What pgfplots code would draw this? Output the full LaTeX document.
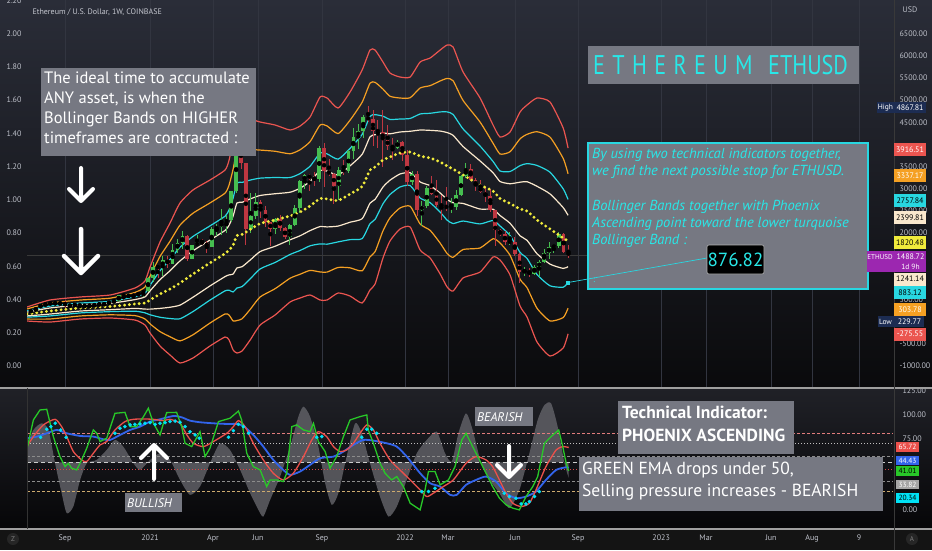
\documentclass[border=0pt]{standalone}
\usepackage{fontspec}
\setmainfont{PT Sans}
\usepackage{pgfplots}
\pgfplotsset{compat=1.18}
\usepackage{pgfplotstable}
\usepgfplotslibrary{fillbetween}
\tikzset{fill between/on layer=main}

\definecolor{bgtop}{RGB}{42,45,56}
\definecolor{bgbot}{RGB}{10,10,12}
\definecolor{lowtop}{RGB}{32,33,39}
\definecolor{lowbot}{RGB}{6,6,8}
\definecolor{gridc}{RGB}{50,53,64}
\definecolor{axtext}{RGB}{190,193,202}
\definecolor{cgreen}{RGB}{70,190,80}
\definecolor{cred}{RGB}{190,55,65}
\definecolor{bred}{RGB}{235,85,80}
\definecolor{borange}{RGB}{245,160,35}
\definecolor{bcyan}{RGB}{40,215,225}
\definecolor{bcream}{RGB}{250,232,205}
\definecolor{byellow}{RGB}{240,235,60}
\definecolor{boxg}{RGB}{118,120,130}
\definecolor{cyantxt}{RGB}{40,232,232}
\definecolor{ogreen}{RGB}{40,200,40}
\definecolor{ored}{RGB}{235,80,75}
\definecolor{oblue}{RGB}{50,100,235}
\definecolor{ocyan}{RGB}{0,225,245}
\definecolor{ogray}{RGB}{96,96,102}
\definecolor{navy}{RGB}{28,44,82}
\definecolor{purp}{RGB}{156,39,176}

% weekly candles, w = weeks after 13 Jul 2020
\pgfplotstableread{
w O H L C
1 235 320 234 311
2 311 415 303 386
3 386 401 363 395
4 395 446 374 433
6 396 440 374 434
8 352 389 332 365
9 365 395 355 385
12 353 377 335 365
13 365 386 357 368
14 368 418 362 406
16 384 470 371 463
18 460 610 445 605
20 575 635 530 590
22 586 670 580 642
23 642 690 565 685
24 685 1005 680 975
25 975 1350 890 1235
27 1230 1470 1030 1390
29 1310 1750 1300 1610
30 1610 1870 1550 1780
31 1780 2040 1650 1935
33 1420 1720 1410 1720
34 1720 1945 1710 1790
37 1690 2145 1680 2080
38 2080 2200 1940 2140
39 2140 2550 1950 2240
40 2240 2400 2000 2300
41 2300 2950 2250 2950
42 2950 3980 2900 3900
45 2100 2900 2000 2380
46 2380 2900 2320 2710
50 2080 2340 1970 2320
53 1900 2200 1720 2190
54 2190 2640 2150 2560
55 2560 3200 2450 3170
56 3170 3340 3000 3310
59 3220 3970 3160 3930
63 3060 3480 2740 3420
65 3410 3880 3360 3850
66 3850 4380 3680 4170
67 4170 4460 3900 4310
68 4310 4670 4150 4610
75 3930 4100 3900 4060
78 3150 3410 3080 3340
80 2530 2730 2160 2600
81 2600 3050 2560 3020
86 2560 2780 2460 2580
87 2580 2960 2510 2860
88 2860 3300 2840 3280
89 3280 3580 3250 3450
98 1800 2020 1740 1805
101 1130 1240 1040 1140
103 1070 1280 1060 1230
104 1230 1390 1010 1340
105 1340 1650 1330 1550
106 1550 1790 1420 1690
107 1690 1720 1560 1700
108 1700 2030 1670 1985
}\upcandles

\pgfplotstableread{
w O H L C
0 239 244 228 235
5 433 441 383 396
7 434 488 308 352
10 385 387 308 355
11 355 377 328 353
15 406 414 370 384
17 463 475 436 460
19 605 625 480 575
21 590 601 530 586
26 1235 1260 980 1230
28 1390 1475 1220 1310
32 1935 1960 1370 1420
35 1790 1875 1730 1780
36 1780 1820 1550 1690
43 3900 4380 3440 3580
44 3580 3590 1730 2100
47 2710 2740 2330 2510
48 2510 2620 2140 2240
49 2240 2250 1700 2080
51 2320 2410 2040 2110
52 2110 2140 1860 1900
57 3310 3330 2950 3230
58 3230 3380 3070 3220
60 3930 4030 3030 3400
61 3400 3670 3280 3330
62 3330 3350 2650 3060
64 3420 3650 3320 3410
69 4610 4868 4500 4570
70 4570 4770 3960 4310
71 4310 4560 3930 4290
72 4290 4780 3500 4110
73 4110 4430 3870 3960
74 3960 4140 3640 3930
76 4060 4080 3630 3770
77 3770 3880 3050 3150
79 3340 3400 2380 2530
82 3020 3280 2860 2880
83 2880 3190 2590 2630
84 2630 2850 2300 2620
85 2620 3040 2500 2560
90 3450 3560 3170 3200
91 3200 3240 2950 3050
92 3050 3190 2910 2920
93 2920 3030 2700 2830
94 2830 3000 2480 2520
95 2520 2530 1700 2060
96 2060 2100 1930 1970
97 1970 2050 1720 1800
99 1805 1920 1470 1530
100 1530 1550 880 1130
102 1140 1220 1000 1070
109 1985 1990 1550 1575
110 1575 1720 1430 1488
}\downcandles

% outer (red) Bollinger band, upper U and lower L; m = months after Jan 2020
\pgfplotstableread{
m U L
6.21 330 14
7.29 488 -9
8.71 556 59
10.12 601 82
11.29 759 36
11.76 917 -76
12.00 1233 -257
12.47 1797 -550
12.94 2226 -753
13.41 2677 -934
14.02 2971 -821
14.82 3196 -550
15.53 3422 -347
15.72 3648 -415
15.91 4099 -641
16.09 4596 -708
16.33 4596 -663
16.71 4573 -415
17.18 4505 -76
17.88 4438 149
18.59 4325 443
19.06 4415 533
19.53 4618 601
20.00 5070 488
20.33 5047 488
20.85 4821 646
21.41 5182 578
21.98 5679 420
22.35 6130 714
22.59 6130 849
22.96 5860 1436
23.29 5611 1820
23.76 5521 2090
24.24 5521 2136
24.71 5860 1616
25.18 5950 1436
25.65 6130 1075
25.98 6243 781
26.26 6198 691
26.73 5634 985
27.53 5047 1120
28.14 4438 1459
28.47 4167 1391
28.94 4280 1052
29.41 4731 353
29.74 4889 104
30.21 5047 -460
30.82 4957 -776
31.44 4370 -595
31.67 3917 -276
}\bands

\pgfplotstableread{
m v
6.20 63.1
6.51 94.6
6.82 105.1
7.14 105.8
7.45 77.1
7.76 56.1
8.00 45.6
8.16 49.1
8.31 43.9
8.55 42.1
8.78 52.6
9.02 64.9
9.33 84.1
9.49 80.6
9.65 71.9
9.96 75.4
10.35 101.6
10.82 102.6
11.06 87.6
11.37 87.6
11.69 98.1
11.92 106.9
12.16 91.1
12.47 78.9
12.78 102.3
13.25 102.6
13.49 87.6
13.65 70.1
13.96 66.6
14.35 82.3
14.59 56.1
14.82 64.9
15.22 92.9
15.76 96.4
16.16 104.0
16.31 94.6
16.55 59.6
16.86 45.6
17.18 42.1
17.49 24.6
17.65 31.6
17.96 31.6
18.27 29.9
18.43 38.6
18.67 87.6
18.90 89.4
19.22 84.1
19.53 82.3
19.69 91.1
19.92 71.9
20.24 61.4
20.47 43.9
20.78 56.1
21.10 77.1
21.41 94.6
21.88 98.1
22.20 99.9
22.27 84.1
22.51 70.1
22.82 49.1
23.06 38.6
23.37 31.6
23.61 35.1
23.92 24.6
24.24 7.1
24.71 0.1
24.94 21.1
25.10 40.4
25.41 40.4
25.65 26.4
26.04 31.6
26.35 45.6
26.67 73.6
26.87 80.6
27.18 66.6
27.50 52.6
27.81 38.6
28.12 24.6
28.44 12.4
28.75 5.4
29.07 1.9
29.38 0.1
29.69 14.1
30.01 24.6
30.24 35.1
30.56 70.1
30.87 77.1
31.23 84.1
31.42 66.6
31.58 49.1
31.70 41.0
}\greenema

\pgfplotstableread{
m v
6.20 66.6
6.51 77.1
6.98 89.4
7.53 95.3
7.84 87.6
8.08 77.1
8.39 61.4
8.78 52.6
9.02 50.9
9.33 59.6
9.65 68.4
9.96 71.9
10.35 84.1
10.82 92.9
11.22 95.3
11.69 95.6
12.16 95.3
12.63 93.9
12.94 95.3
13.41 91.1
13.73 78.9
14.04 70.1
14.51 66.6
14.98 71.9
15.61 80.6
15.92 87.6
16.16 93.9
16.47 87.6
16.86 70.1
17.33 52.6
17.80 38.6
18.27 31.6
18.74 38.6
19.22 56.1
19.61 73.6
19.92 82.3
20.31 77.1
20.63 66.6
20.94 61.4
21.25 63.1
21.57 70.1
21.88 80.6
22.20 89.4
22.51 84.1
22.82 70.1
23.29 52.6
23.76 42.1
24.24 31.6
24.71 21.1
25.02 14.1
25.33 17.6
25.80 24.6
26.27 31.6
26.87 49.1
27.34 56.1
27.81 52.6
28.12 45.6
28.44 31.6
28.75 17.6
29.07 7.1
29.46 3.6
29.85 7.1
30.16 21.1
30.63 45.6
31.11 63.1
31.42 66.6
31.70 65.7
}\redema

\pgfplotstableread{
m v
6.20 75.4
6.67 77.1
7.14 80.6
7.61 84.1
8.08 80.6
8.71 77.8
9.33 77.1
9.80 74.3
10.12 73.6
10.59 78.9
11.06 84.1
11.53 87.6
12.00 92.9
12.47 95.3
13.10 98.8
13.49 97.4
13.88 93.9
14.35 92.2
14.98 91.1
15.61 90.4
16.08 90.4
16.39 88.3
16.86 78.9
17.33 66.6
17.80 52.6
18.27 42.1
18.59 36.9
19.06 40.4
19.53 47.4
20.00 54.4
20.63 56.1
21.10 61.4
21.57 68.4
22.04 73.6
22.51 72.9
23.14 70.1
23.61 66.6
24.08 56.1
24.71 38.6
25.18 28.1
25.65 24.6
26.12 15.9
26.43 15.9
26.87 26.4
27.34 31.6
27.81 35.1
28.28 29.9
28.75 17.6
29.22 12.4
29.69 14.1
30.16 19.4
30.63 31.6
31.11 42.1
31.58 44.9
31.70 44.4
}\blueema

\pgfplotstableread{
m v
6.20 66.6
6.51 84.1
6.90 91.1
7.22 84.1
7.53 49.1
7.84 17.6
8.08 -3.4
8.39 3.6
8.71 31.6
9.02 49.1
9.49 52.6
9.96 63.1
10.35 73.6
10.74 66.6
11.22 49.1
11.53 42.1
12.00 52.6
12.47 59.6
12.94 52.6
13.41 31.6
13.88 15.9
14.35 24.6
14.82 49.1
15.29 70.1
15.76 63.1
16.24 42.1
16.71 17.6
17.10 0.1
17.33 -6.9
17.65 10.6
18.12 35.1
18.59 66.6
18.98 98.1
19.22 108.6
19.53 98.1
19.92 66.6
20.24 28.1
20.55 5.4
20.86 17.6
21.25 56.1
21.65 91.1
21.96 80.6
22.35 49.1
22.82 14.1
23.22 -6.9
23.61 3.6
24.08 31.6
24.55 59.6
25.02 73.6
25.49 82.3
25.88 59.6
26.20 50.9
26.51 80.6
26.87 101.6
27.18 84.1
27.58 49.1
27.97 31.6
28.44 17.6
28.91 1.9
29.38 21.1
29.85 59.6
30.24 94.6
30.56 110.4
30.87 112.1
31.18 87.6
31.50 49.1
31.70 33.8
}\grayosc

\pgfplotstableread{
m v
6.85 76.4
7.14 84.8
7.33 87.6
7.54 91.1
7.80 84.1
8.05 76.4
10.35 80.6
10.59 85.9
10.82 87.6
11.06 89.4
11.29 90.0
11.53 90.4
11.76 91.1
12.00 91.8
12.24 90.0
12.47 91.1
12.71 91.8
12.94 92.9
13.18 93.5
13.41 92.2
13.65 87.6
13.88 82.3
14.12 78.9
14.32 75.4
15.69 76.4
15.92 83.4
16.16 90.0
16.39 87.6
16.63 80.6
19.84 76.4
20.08 77.1
21.96 76.4
22.20 84.8
22.43 84.8
22.67 80.6
24.78 19.4
25.10 19.4
25.41 22.9
28.67 17.6
28.91 14.1
29.22 12.4
29.46 6.4
29.69 6.4
29.85 8.8
30.09 14.1
30.32 19.4
}\cyandots

\pgfplotsset{
  /pgf/number format/assume math mode=true,
  pane/.style={scale only axis, width=866pt, xmin=6.21, xmax=46.96,
    axis line style={draw=none}, major tick length=0pt,
    xtick={8.00,12.0,14.96,17.08,20.09,24.0,26.02,29.18,32.14,36.05,38.16,41.22,43.15,45.36},
    xmajorgrids, grid style={gridc, line width=0.6pt},
    tick label style={font=\fontsize{8}{9}\selectfont, text=axtext}},
}

% band at mid + f * half width (Fibonacci factors of the outer band)
\newcommand{\band}[2]{\addplot[#1, line width=1.2pt, smooth, tension=0.35]
  table[x=m, y expr={0.5*(\thisrow{U}+\thisrow{L})+(#2)*0.5*(\thisrow{U}-\thisrow{L})}] {\bands};}

\newcommand{\candles}[2]{%
  \addplot[only marks, mark=none, error bars/.cd, y dir=both, y explicit, error mark=none,
    error bar style={line width=0.8pt, color=#2}]
    table[x expr=6.39+0.23*\thisrow{w}, y expr={0.5*(\thisrow{H}+\thisrow{L})},
      y error expr={0.5*(\thisrow{H}-\thisrow{L})}] {#1};
  \addplot[only marks, mark=none, error bars/.cd, y dir=both, y explicit, error mark=none,
    error bar style={line width=3.7pt, color=#2}]
    table[x expr=6.39+0.23*\thisrow{w}, y expr={0.5*(\thisrow{O}+\thisrow{C})},
      y error expr={0.5*abs(\thisrow{C}-\thisrow{O})}] {#1};}

\begin{document}
\begin{tikzpicture}
\fill[black!92] (0,0) rectangle (932pt,550pt);
\shade[top color=bgtop, bottom color=bgbot] (0,162pt) rectangle (932pt,550pt);
\shade[top color=lowtop, bottom color=lowbot] (0,21pt) rectangle (932pt,162pt);

% ---------- price pane ----------
\begin{axis}[pane, at={(27pt,162pt)}, anchor=south west, height=388pt,
  ymin=-1498, ymax=7259, xticklabels={},
  ytick={-1000,-250,...,7250},
  yticklabels={0.00,0.20,0.40,0.60,0.80,1.00,1.20,1.40,1.60,1.80,2.00,2.20},
  yticklabel style={anchor=east, xshift=-2pt}]
\addplot[gray!45!black, line width=0.6pt] coordinates {(6.21,1488.72) (46.96,1488.72)};
\band{bred}{1}
\band{bred}{-1}
\band{borange}{0.7236}
\band{borange}{-0.7236}
\band{bcyan}{0.4472}
\band{bcyan}{-0.4472}
\band{bcream}{0.2764}
\band{bcream}{-0.2764}
\candles{\upcandles}{cgreen}
\candles{\downcandles}{cred}
\addplot[byellow, line width=3.2pt, line cap=round, dash pattern=on 0pt off 4.9pt, smooth, tension=0.35]
  table[x=m, y expr={0.5*(\thisrow{U}+\thisrow{L})}] {\bands};
\addplot[only marks, mark=square*, mark size=1.6pt, bcyan] coordinates {(31.67,883.12)};
\coordinate (lowband) at (axis cs:31.67,883.12);
\end{axis}

% right-hand price scale
\begin{axis}[scale only axis, width=866pt, height=388pt, at={(27pt,162pt)}, anchor=south west,
  xmin=6.21, xmax=46.96, ymin=-1498, ymax=7259, xtick=\empty,
  yticklabel pos=right, axis line style={draw=none}, major tick length=0pt,
  ytick={-1000,-500,500,2000,2500,3000,3500,4500,5000,5500,6000,6500},
  yticklabel style={font=\fontsize{8}{9}\selectfont, text=axtext, anchor=west, xshift=3pt},
  /pgf/number format/.cd, fixed, fixed zerofill, precision=2, 1000 sep={}]
\addplot[draw=none] coordinates {(6.21,0) (46.96,100)};
\end{axis}

% ---------- indicator pane ----------
\begin{axis}[pane, at={(27pt,21pt)}, anchor=south west, height=141pt,
  ymin=-20, ymax=128.2,
  xticklabels={Sep,2021,Apr,Jun,Sep,2022,Mar,Jun,Sep,2023,Mar,Jun,Aug,9},
  xticklabel style={anchor=north, yshift=-2pt},
  ytick={0,75,100,125}, yticklabel pos=right,
  yticklabel style={anchor=west, xshift=6pt},
  /pgf/number format/.cd, fixed, fixed zerofill, precision=2]
\addplot[name path=gr, draw=none, smooth, tension=0.4] table[x=m, y=v] {\grayosc};
\addplot[name path=base, draw=none] coordinates {(6.20,50) (31.70,50)};
\addplot[fill=ogray, draw=none, fill opacity=0.85] fill between[of=gr and base];
\addplot[color={rgb,255:red,225;green,125;blue,125}, line width=0.8pt, dash pattern=on 3pt off 2pt] coordinates {(6.21,80) (46.96,80)};
\addplot[white!75!black, line width=0.9pt, dash pattern=on 1pt off 2pt] coordinates {(6.21,70) (46.96,70)};
\addplot[white!55!black, line width=0.8pt, dash pattern=on 3pt off 2pt] coordinates {(6.21,56) (46.96,56)};
\addplot[white!80!black, line width=1.6pt, dash pattern=on 4pt off 3pt] coordinates {(6.21,50) (46.96,50)};
\addplot[color={rgb,255:red,215;green,70;blue,70}, line width=0.9pt, dash pattern=on 1pt off 2pt] coordinates {(6.21,43) (46.96,43)};
\addplot[white!55!black, line width=0.8pt, dash pattern=on 3pt off 2pt] coordinates {(6.21,30) (46.96,30)};
\addplot[color={rgb,255:red,205;green,170;blue,110}, line width=0.8pt, dash pattern=on 3pt off 2pt] coordinates {(6.21,20) (46.96,20)};
\addplot[oblue, line width=1.8pt, smooth, tension=0.4] table[x=m, y=v] {\blueema};
\addplot[ored, line width=1.3pt, smooth, tension=0.4] table[x=m, y=v] {\redema};
\addplot[ogreen, line width=1.3pt] table[x=m, y=v] {\greenema};
\addplot[only marks, mark=*, mark size=1.6pt, ocyan] table[x=m, y=v] {\cyandots};
\end{axis}

% ---------- frame lines ----------
\draw[gray!75, line width=1.2pt] (0,162pt) -- (932pt,162pt);
\draw[gray!75, line width=1.2pt] (0,21pt) -- (932pt,21pt);
\draw[gray!40!black, line width=0.8pt] (27pt,21pt) -- (27pt,162pt);
\draw[gray!45!black, line width=0.8pt] (894pt,0) -- (894pt,550pt);

% ---------- annotations (pixel coordinates, y downwards) ----------
\begin{scope}[shift={(0pt,550pt)}, x=1pt, y=-1pt]
\node[anchor=west, text=axtext!90!white, font=\fontsize{8}{9}\selectfont] at (29,12.5) {Ethereum / U.S. Dollar, 1W, COINBASE};
\node[anchor=west, text=axtext, font=\fontsize{8}{9}\selectfont] at (899,10) {USD};

% arrows
\draw[white, line width=4pt, line cap=round, line join=round] (81,168) -- (81,200) (69,189) -- (81,201) -- (93,189);
\draw[white, line width=4.5pt, line cap=round, line join=round] (81,229) -- (81,272) (64,256) -- (81,273) -- (98,256);
\draw[white, line width=4pt, line cap=round, line join=round] (154,479) -- (154,445) (141,458) -- (154,445) -- (167,458);
\draw[white, line width=4pt, line cap=round, line join=round] (509,446) -- (509,477) (497,465) -- (509,477) -- (521,465);

% text boxes
\fill[boxg] (41,68) rectangle (256,156);
\node[anchor=north west, inner sep=0pt, text=white, font=\fontsize{16.5}{20}\selectfont, align=left] at (44,72)
  {The ideal time to accumulate\\ANY asset, is when the\\Bollinger Bands on HIGHER\\timeframes are contracted :};

\fill[boxg] (588,46) rectangle (859,84);
\node[anchor=west, inner sep=0pt, text=cyantxt, font=\fontsize{27}{29}\selectfont] at (593,65)
  {\scalebox{0.82}[1]{E\,\,T\,\,H\,\,E\,\,R\,\,E\,\,U\,\,M\hspace{0.7em}ETHUSD}};

\fill[boxg] (588,143) rectangle (868,289);
\draw[bcyan, line width=1.5pt] (588,143) rectangle (868,289);
\node[anchor=north west, inner sep=0pt, text=cyantxt, font=\itshape\fontsize{14.5}{17.3}\selectfont, align=left] at (592,148)
  {By using two technical indicators together,\\we find the next possible stop for ETHUSD.\\[17.3pt]Bollinger Bands together with Phoenix\\Ascending point toward the lower turquoise\\Bollinger Band :};
\node[text=cyantxt, font=\fontsize{9}{9}\selectfont] at (594,280) {:};
\draw[bcyan, line width=0.7pt] (lowband) -- (707,258);
\draw[fill=black, draw=gray!60, line width=0.6pt, rounded corners=2pt] (707,245) rectangle (764,274);
\node[text=cyantxt, font=\fontsize{19}{20}\selectfont] at (735.5,259.5) {876.82};

\fill[boxg] (618,401) rectangle (794,454);
\node[anchor=north west, inner sep=0pt, text=white, font=\bfseries\fontsize{17.5}{23}\selectfont, align=left] at (622,406)
  {Technical Indicator:\\PHOENIX ASCENDING};
\fill[boxg] (579,457) rectangle (883,511);
\node[anchor=north west, inner sep=0pt, text=white, font=\fontsize{17.5}{22}\selectfont, align=left] at (582,462)
  {GREEN EMA drops under 50,\\Selling pressure increases - BEARISH};
\fill[boxg] (125,493) rectangle (182,512);
\node[anchor=west, inner sep=0pt, text=white, font=\itshape\fontsize{12.5}{13}\selectfont] at (127,503) {BULLISH};
\fill[boxg] (475,407) rectangle (533,426);
\node[anchor=west, inner sep=0pt, text=white, font=\itshape\fontsize{12.5}{13}\selectfont] at (477,417) {BEARISH};

% price scale badges
\newcommand{\badge}[4]{\fill[#2] (894,#1-6.5) rectangle (926,#1+6.5);
  \node[text=#3, inner sep=0pt, font=\fontsize{8}{9}\selectfont] at (910,#1) {#4};}
\fill[navy] (877,102.5) rectangle (926,113);
\node[text=white, inner sep=0pt, font=\fontsize{7.5}{9}\selectfont] at (885.5,107.7) {High};
\node[text=white, inner sep=0pt, font=\fontsize{8}{9}\selectfont] at (910,107.7) {4867.81};
\badge{150}{bred}{white}{3916.51}
\badge{175.7}{borange}{white}{3337.17}
\badge{200.7}{bcyan}{black}{2757.84}
\badge{217.3}{bcream}{black}{2399.81}
\badge{242.3}{byellow}{black}{1820.48}
\fill[purp] (866.5,250.5) rectangle (926,272);
\node[text=white, inner sep=0pt, font=\fontsize{7}{8}\selectfont] at (880,257) {ETHUSD};
\node[text=white, inner sep=0pt, font=\fontsize{8}{9}\selectfont] at (910.5,257) {1488.72};
\node[text=white, inner sep=0pt, font=\fontsize{7.5}{8}\selectfont] at (910.5,266.5) {1d 9h};
\badge{279}{bcream}{black}{1241.14}
\badge{292.3}{bcyan}{black}{883.12}
\badge{309.3}{borange}{white}{303.78}
\fill[navy] (877.5,316) rectangle (924,327);
\node[text=white, inner sep=0pt, font=\fontsize{7.5}{9}\selectfont] at (885.5,321.5) {Low};
\node[text=white, inner sep=0pt, font=\fontsize{8}{9}\selectfont] at (909.5,321.5) {229.77};
\badge{334}{bred}{white}{-275.55}

% indicator scale badges
\newcommand{\obadge}[4]{\fill[#2] (896,#1-4.7) rectangle (919,#1+4.7);
  \node[text=#3, inner sep=0pt, font=\fontsize{7.5}{8}\selectfont] at (907.5,#1) {#4};}
\obadge{447}{ored}{white}{65.72}
\obadge{460.5}{oblue}{white}{44.43}
\obadge{471}{ogreen}{black}{41.01}
\obadge{484.5}{gray!70}{white}{33.82}
\obadge{498}{ocyan}{black}{20.34}

% corner icons
\fill[gray!30!black] (13,539) circle (6);
\node[text=gray, font=\fontsize{7}{7}\selectfont] at (13,539) {Z};
\fill[gray!30!black] (912,539) circle (6);
\node[text=gray, font=\fontsize{7}{7}\selectfont] at (912,539) {A};
\end{scope}
\pgfresetboundingbox
\path[use as bounding box] (0,0) rectangle (932pt,550pt);
\end{tikzpicture}
\end{document}
